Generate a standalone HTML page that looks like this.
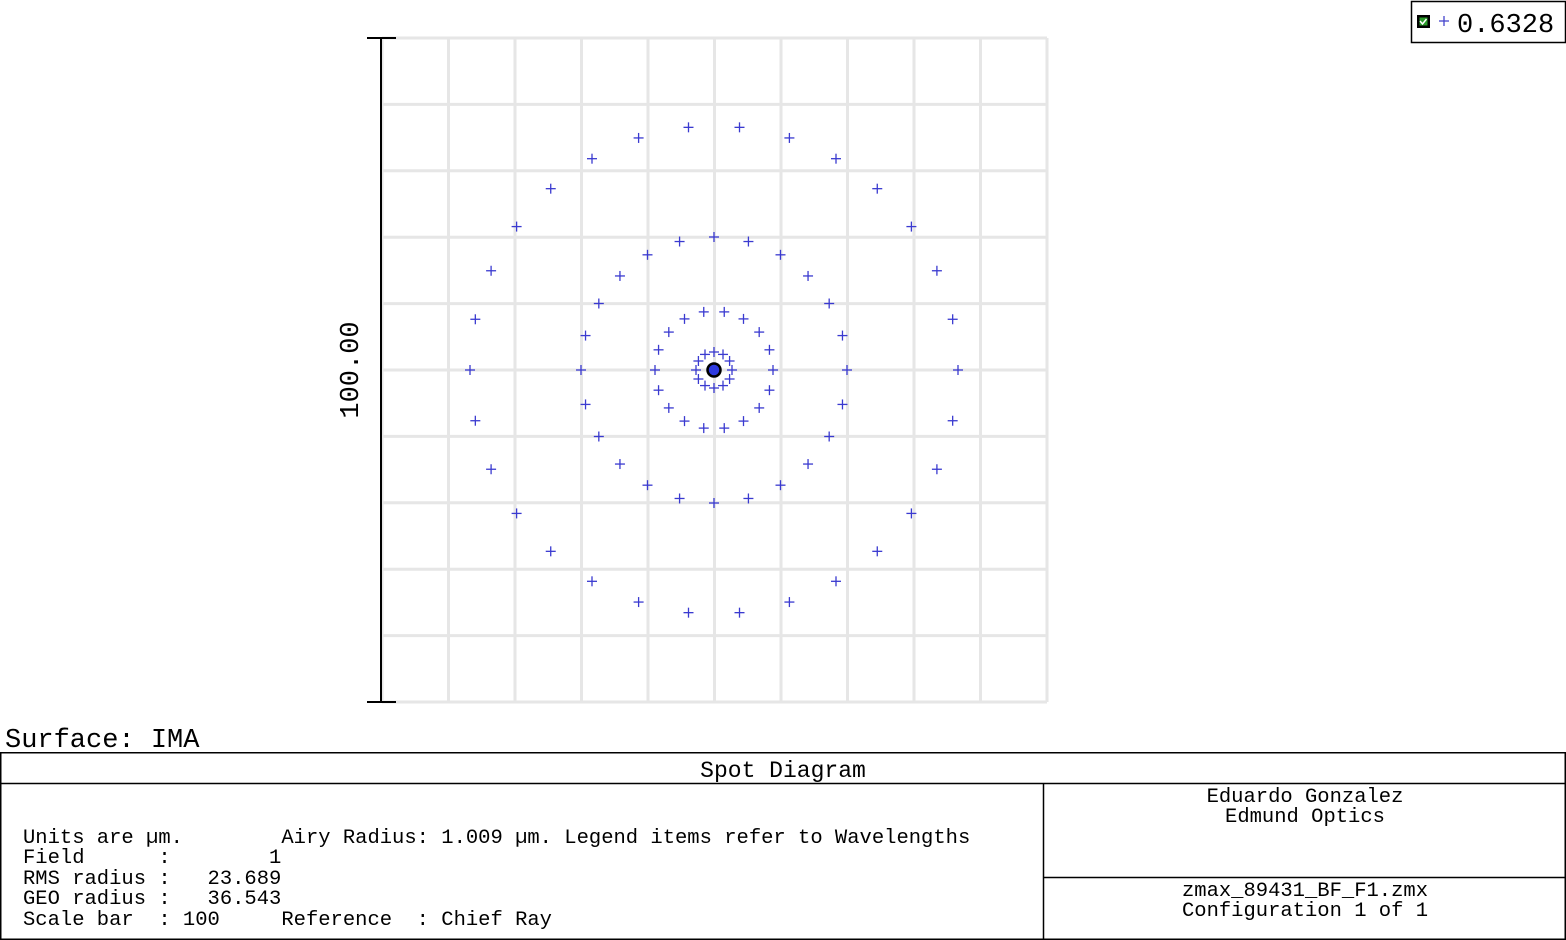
<!DOCTYPE html>
<html><head><meta charset="utf-8"><style>
html,body{margin:0;padding:0;background:#fff;}
svg{display:block;}
text{font-family:"Liberation Mono","DejaVu Sans Mono",monospace;white-space:pre;fill:#000;}
</style></head><body>
<svg id="s" width="1566" height="940" xmlns="http://www.w3.org/2000/svg">
<g stroke="#e6e6e6" stroke-width="3" id="grid"></g>
<g stroke="#000" stroke-width="2">
<line x1="381" y1="38" x2="381" y2="702"/>
<line x1="367" y1="38" x2="396" y2="38"/>
<line x1="367" y1="702" x2="396" y2="702"/>
</g>
<text x="0" y="0" font-size="27" transform="translate(358,370) rotate(-90)" text-anchor="middle">100.00</text>
<g stroke="#3a3ad0" stroke-width="1.3" id="pts"></g>
<circle cx="714" cy="370" r="6.5" fill="#2e3ae0" stroke="#000" stroke-width="2.5"/>
<rect x="1411.5" y="1.5" width="154" height="41" fill="#fff" stroke="#000" stroke-width="1.5"/>
<rect x="1417" y="15" width="13" height="13" fill="#000"/>
<rect x="1419.5" y="17.5" width="8" height="8" fill="#2a9a2a"/>
<path d="M1420 21 l2.5 3 l4 -5" stroke="#fff" stroke-width="1.5" fill="none"/>
<g stroke="#4444cc" stroke-width="1.3"><line x1="1439" y1="21" x2="1449" y2="21"/><line x1="1444" y1="16" x2="1444" y2="26"/></g>
<text x="1457" y="32" font-size="27">0.6328</text>
<text x="5" y="747" font-size="27">Surface: IMA</text>
<g fill="none" stroke="#000" stroke-width="1.5">
<rect x="0.75" y="752.75" width="1564.5" height="186.5"/>
<line x1="0" y1="783.5" x2="1566" y2="783.5"/>
<line x1="1043.5" y1="783" x2="1043.5" y2="940"/>
<line x1="1043" y1="877.5" x2="1566" y2="877.5"/>
</g>
<text x="783" y="777" font-size="23" text-anchor="middle">Spot Diagram</text>
<g font-size="20.5">
<text x="23" y="843">Units are µm.        Airy Radius: 1.009 µm. Legend items refer to Wavelengths</text>
<text x="23" y="863">Field      :        1</text>
<text x="23" y="884">RMS radius :   23.689</text>
<text x="23" y="904">GEO radius :   36.543</text>
<text x="23" y="925">Scale bar  : 100     Reference  : Chief Ray</text>
<text x="1305" y="802" text-anchor="middle">Eduardo Gonzalez</text>
<text x="1305" y="822" text-anchor="middle">Edmund Optics</text>
<text x="1305" y="896" text-anchor="middle">zmax_89431_BF_F1.zmx</text>
<text x="1305" y="916" text-anchor="middle">Configuration 1 of 1</text>
</g>
</svg>
<script>
var ns="http://www.w3.org/2000/svg";
var g=document.getElementById("grid");
function ln(p,a,b,c,d){var l=document.createElementNS(ns,"line");l.setAttribute("x1",a);l.setAttribute("y1",b);l.setAttribute("x2",c);l.setAttribute("y2",d);p.appendChild(l);}
for(var i=0;i<=10;i++){var x=382+i*66.5,y=38+i*66.4;ln(g,x,38,x,702);ln(g,382,y,1047,y);}
var p=document.getElementById("pts");
var rings=[[18,12,0],[59,18,0],[133,24,0],[244,30,0]];
rings.forEach(function(r){for(var k=0;k<r[1];k++){var a=(r[2]+k*360/r[1])*Math.PI/180;var x=714+r[0]*Math.cos(a),y=370-r[0]*Math.sin(a);ln(p,x-5,y,x+5,y);ln(p,x,y-5,x,y+5);}});
</script>
</body></html>
